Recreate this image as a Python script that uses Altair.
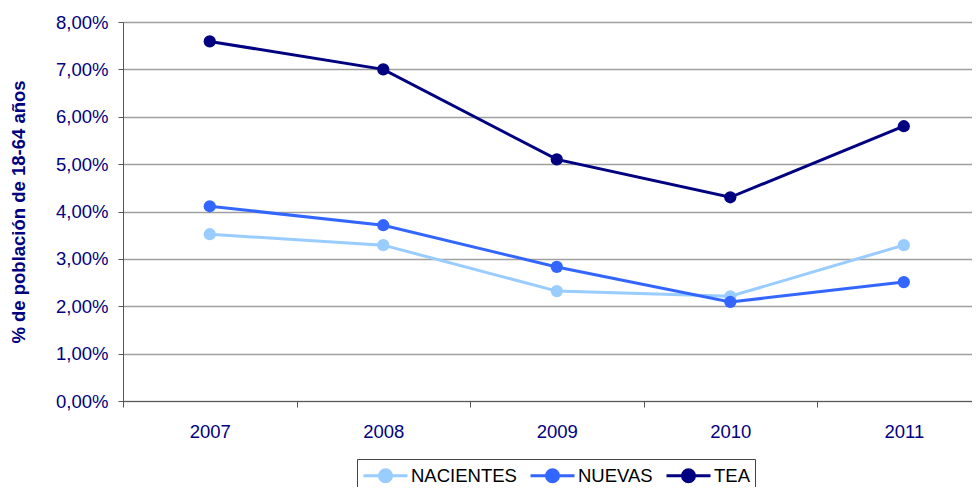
import altair as alt
import pandas as pd

years = [2007, 2008, 2009, 2010, 2011]
series_names = ["NACIENTES", "NUEVAS", "TEA"]
nacientes = [3.52, 3.29, 2.32, 2.21, 3.29]
nuevas = [4.11, 3.71, 2.83, 2.09, 2.51]
tea = [7.59, 7.0, 5.1, 4.3, 5.8]
colors = ["#99CCFF", "#3366FF", "#000080"]

y_ticks = [0, 1, 2, 3, 4, 5, 6, 7, 8]
x_ticks = [2006.5, 2007, 2007.5, 2008, 2008.5, 2009, 2009.5, 2010, 2010.5, 2011]

rows = []
for name, vals in zip(series_names, [nacientes, nuevas, tea]):
    for yr, v in zip(years, vals):
        rows.append({"year": yr, "serie": name, "valor": v})
df = pd.DataFrame(rows)

FONT = "Liberation Sans"
NAVY = "#000080"
FS = 18.5

x_enc = alt.X(
    "year:Q",
    scale=alt.Scale(domain=[2006.5, 2011.393], nice=False, zero=False),
    axis=alt.Axis(
        values=x_ticks,
        title=None,
        grid=False,
        labelExpr="datum.value % 1 == 0 ? format(datum.value, 'd') : ''",
        labelOverlap=False,
        labelFlush=False,
        tickSize=6,
        tickOpacity={"condition": {"test": "datum.value % 1 != 0", "value": 1}, "value": 0},
        tickColor="#555555",
        domainColor="#555555",
        labelPadding=15,
        labelFontSize=FS,
        labelColor=NAVY,
        labelFont=FONT,
    ),
)
y_enc = alt.Y(
    "valor:Q",
    scale=alt.Scale(domain=[0, 8], nice=False),
    axis=alt.Axis(
        values=y_ticks,
        title="% de población de 18-64 años",
        titleFontSize=18.5,
        titleFontWeight="bold",
        titleColor=NAVY,
        titleFont=FONT,
        titlePadding=27,
        labelExpr="replace(format(datum.value, '.2f'), '.', ',') + '%'",
        labelFontSize=FS,
        labelColor=NAVY,
        labelFont=FONT,
        labelPadding=10,
        tickSize=5,
        tickColor="#555555",
        domainColor="#555555",
        gridColor="#A0A0A0",
        gridWidth=1.3,
    ),
)
color_enc = alt.Color(
    "serie:N",
    scale=alt.Scale(domain=series_names, range=colors),
    legend=alt.Legend(
        title=None,
        orient="none",
        legendX=234,
        legendY=437,
        direction="horizontal",
        strokeColor="#444444",
        fillColor="white",
        padding=5,
        labelFontSize=FS,
        labelFont=FONT,
        labelColor="black",
        labelOffset=26,
        columnPadding=7,
        symbolType="M-1,0L3.4,0M0.6,0A0.6,0.6,0,1,1,1.8,0A0.6,0.6,0,1,1,0.6,0Z",
        symbolSize=400,
        symbolStrokeWidth=3,
    ),
)

base = alt.Chart(df).encode(x=x_enc, y=y_enc, color=color_enc)
lines = base.mark_line(strokeWidth=3)
points = base.mark_point(filled=True, size=150, opacity=1, shape="circle")

chart = (
    alt.layer(lines, points)
    .properties(
        width=849,
        height=379,
        autosize=alt.AutoSizeParams(type="none"),
        padding={"left": 115, "top": 14, "right": 0, "bottom": 86},
    )
    .configure_view(stroke=None)
    .configure(background="white")
)

chart.save("out.html", embed_options={"renderer": "svg", "actions": False})
